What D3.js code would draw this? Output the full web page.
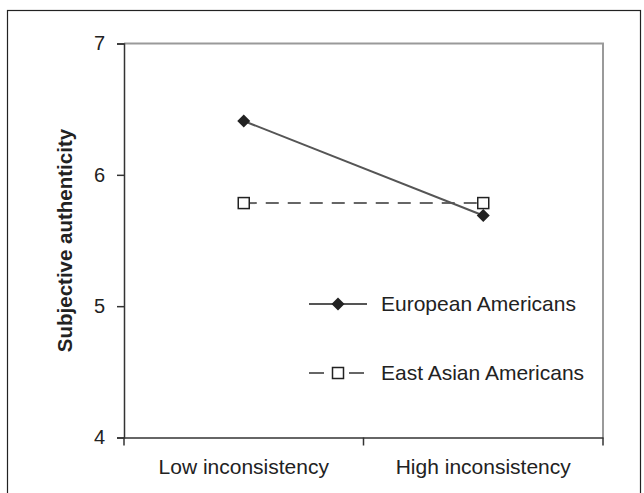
<!DOCTYPE html>
<html><head><meta charset="utf-8">
<script src="https://cdn.jsdelivr.net/npm/d3@7"></script>
<style>body{margin:0;background:#fff}svg{display:block}text{font-family:"Liberation Sans",Arial,sans-serif;fill:#222}</style>
</head><body>
<script>
const categories = ["Low inconsistency", "High inconsistency"];
const european = [6.41, 5.69];
const eastAsian = [5.785, 5.785];
const yTicks = [4, 5, 6, 7];
const seriesNames = ["European Americans", "East Asian Americans"];

const W = 644, H = 493;
const m = {left: 124, right: 41, top: 43.5, bottom: 55.5};
const svg = d3.select("body").append("svg").attr("width", W).attr("height", H);

// outer frame
svg.append("rect").attr("x", 7.5).attr("y", 10.5).attr("width", 633).attr("height", 500)
  .attr("fill", "none").attr("stroke", "#222").attr("stroke-width", 1.2);

const x = d3.scaleBand().domain(categories).range([m.left, W - m.right]).padding(0);
const y = d3.scaleLinear().domain([4, 7]).range([H - m.bottom, m.top]);

// top & right gray border
svg.append("path").attr("d", `M${m.left},${y(7)}H${W - m.right}V${y(4)}`)
  .attr("fill", "none").attr("stroke", "#9a9a9a").attr("stroke-width", 2);

// y axis
const ya = svg.append("g").attr("transform", `translate(${m.left},0)`)
  .call(d3.axisLeft(y).tickValues(yTicks).tickSize(7).tickPadding(12).tickFormat(d3.format("d")));
ya.select(".domain").attr("stroke", "#333").attr("stroke-width", 1.5);
ya.selectAll(".tick line").attr("stroke", "#333").attr("stroke-width", 1.5);
ya.selectAll("text").attr("font-size", 20).style("font-family", "Liberation Sans, Arial, sans-serif").attr("fill", "#222");

// x axis
const xa = svg.append("g").attr("transform", `translate(0,${y(4)})`)
  .call(d3.axisBottom(x).tickSize(0).tickPadding(22));
xa.select(".domain").attr("stroke", "#333").attr("stroke-width", 1.5);
xa.selectAll("text").attr("font-size", 21).style("font-family", "Liberation Sans, Arial, sans-serif").attr("fill", "#222");
const bounds = d3.range(categories.length + 1).map(i => x.range()[0] + i * x.step());
svg.append("g").selectAll("line").data(bounds).join("line")
  .attr("x1", d => d).attr("x2", d => d).attr("y1", y(4)).attr("y2", y(4) + 8)
  .attr("stroke", "#333").attr("stroke-width", 1.5);

// y title
svg.append("text").attr("transform", `translate(72,${(y(4) + y(7)) / 2}) rotate(-90)`)
  .attr("text-anchor", "middle").attr("font-size", 20.5).attr("font-weight", "bold").text("Subjective authenticity");

const cx = d => x(d) + x.bandwidth() / 2;
const line = d3.line().x(d => cx(d[0])).y(d => y(d[1]));

// East Asian dashed
svg.append("path").datum(categories.map((c, i) => [c, eastAsian[i]])).attr("d", line)
  .attr("fill", "none").attr("stroke", "#666").attr("stroke-width", 2).attr("stroke-dasharray", "13,9");
// European solid
svg.append("path").datum(categories.map((c, i) => [c, european[i]])).attr("d", line)
  .attr("fill", "none").attr("stroke", "#555").attr("stroke-width", 2);

const diamond = (g, px, py) => g.append("path")
  .attr("d", `M${px},${py - 6.5}L${px + 6.5},${py}L${px},${py + 6.5}L${px - 6.5},${py}Z`).attr("fill", "#222");
const square = (g, px, py) => g.append("rect").attr("x", px - 5.5).attr("y", py - 5.5)
  .attr("width", 11).attr("height", 11).attr("fill", "#fff").attr("stroke", "#222").attr("stroke-width", 1.5);

categories.forEach((c, i) => square(svg, cx(c), y(eastAsian[i])));
categories.forEach((c, i) => diamond(svg, cx(c), y(european[i])));

// legend
const lg = svg.append("g");
const legY = [304, 373];
lg.append("line").attr("x1", 309).attr("x2", 367).attr("y1", legY[0]).attr("y2", legY[0]).attr("stroke", "#555").attr("stroke-width", 2);
diamond(lg, 338, legY[0]);
lg.append("line").attr("x1", 309).attr("x2", 367).attr("y1", legY[1]).attr("y2", legY[1]).attr("stroke", "#666").attr("stroke-width", 2).attr("stroke-dasharray", "15,9,10,6");
square(lg, 338, legY[1]);
seriesNames.forEach((n, i) => lg.append("text").attr("x", 381).attr("y", legY[i]).attr("dy", "0.35em")
  .attr("font-size", 21).text(n));
</script>
</body></html>
